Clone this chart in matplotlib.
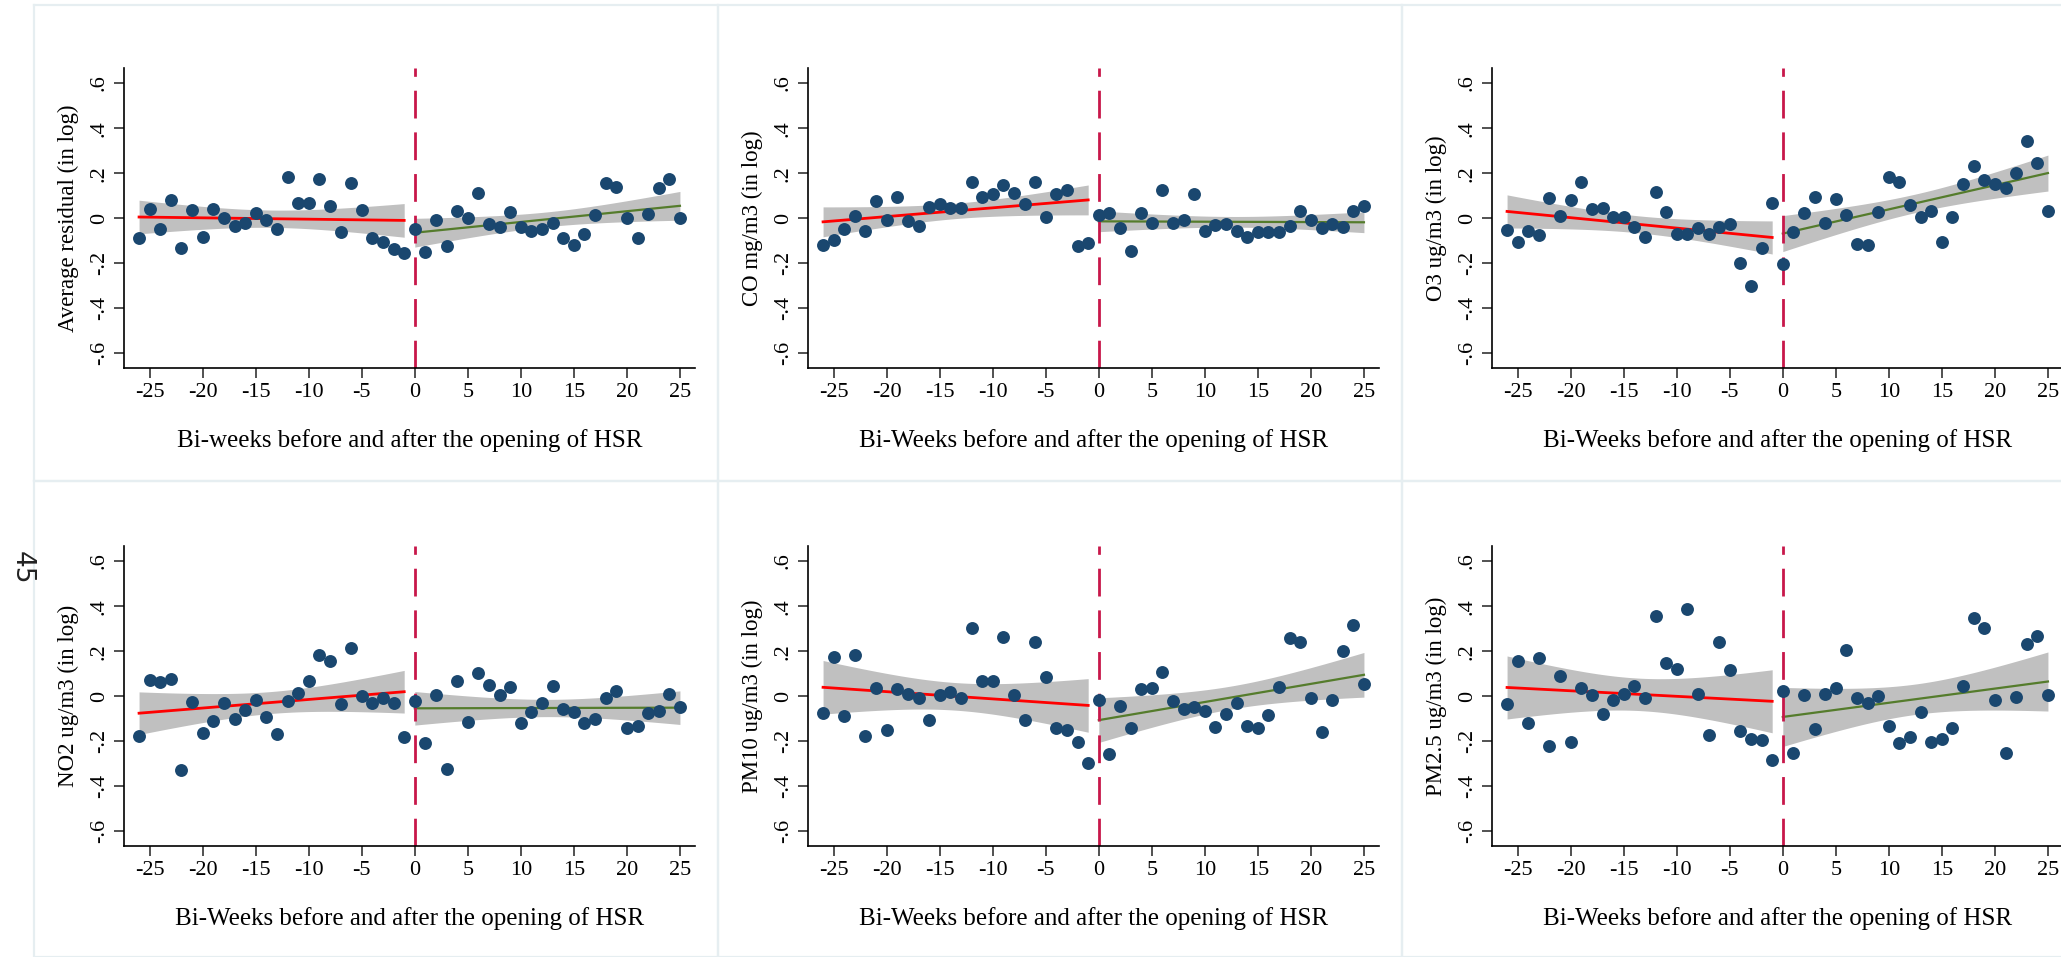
import numpy as np
import matplotlib.pyplot as plt
from matplotlib.lines import Line2D

plt.rcParams['font.family'] = ['Liberation Serif', 'DejaVu Serif']

WEEKS = np.arange(-26, 26)

RESID = [-0.09, 0.04, -0.05, 0.08, -0.134, 0.037, -0.083, 0.04, 0.0, -0.034,
         -0.022, 0.025, -0.01, -0.046, 0.184, 0.066, 0.066, 0.173, 0.053, -0.06,
         0.156, 0.037, -0.086, -0.106, -0.136, -0.156,
         -0.046, -0.15, -0.01, -0.124, 0.031, 0.003, 0.11, -0.024, -0.041, 0.027,
         -0.038, -0.058, -0.05, -0.022, -0.087, -0.118, -0.072, 0.013, 0.158, 0.14,
         0.0, -0.09, 0.018, 0.134, 0.175, 0.0]
CO = [-0.121, -0.097, -0.049, 0.01, -0.055, 0.077, -0.01, 0.093, -0.013, -0.034,
      0.049, 0.065, 0.047, 0.047, 0.159, 0.093, 0.106, 0.149, 0.111, 0.062,
      0.159, 0.004, 0.108, 0.124, -0.125, -0.112,
      0.016, 0.021, -0.044, -0.147, 0.021, -0.019, 0.124, -0.019, -0.009, 0.109,
      -0.058, -0.032, -0.024, -0.055, -0.084, -0.06, -0.059, -0.063, -0.034, 0.03,
      -0.009, -0.044, -0.024, -0.037, 0.032, 0.055]
O3 = [-0.052, -0.105, -0.055, -0.074, 0.09, 0.01, 0.08, 0.159, 0.04, 0.044,
      0.007, 0.004, -0.037, -0.084, 0.115, 0.027, -0.072, -0.072, -0.043, -0.069,
      -0.037, -0.025, -0.2, -0.302, -0.133, 0.066,
      -0.205, -0.059, 0.022, 0.096, -0.019, 0.087, 0.013, -0.115, -0.118, 0.027,
      0.181, 0.159, 0.058, 0.004, 0.031, -0.106, 0.004, 0.153, 0.232, 0.171,
      0.152, 0.134, 0.2, 0.341, 0.246, 0.031]
NO2 = [-0.177, 0.074, 0.062, 0.075, -0.326, -0.027, -0.162, -0.108, -0.029, -0.102,
       -0.06, -0.015, -0.093, -0.167, -0.019, 0.015, 0.068, 0.184, 0.158, -0.035,
       0.214, 0.0, -0.032, -0.006, -0.031, -0.181,
       -0.019, -0.209, 0.006, -0.323, 0.068, -0.115, 0.102, 0.049, 0.006, 0.041,
       -0.118, -0.072, -0.032, 0.044, -0.056, -0.072, -0.121, -0.1, -0.009, 0.024,
       -0.142, -0.131, -0.075, -0.066, 0.012, -0.05]
PM10 = [-0.074, 0.174, -0.09, 0.184, -0.178, 0.037, -0.15, 0.034, 0.012, -0.009,
        -0.105, 0.007, 0.018, -0.01, 0.301, 0.068, 0.068, 0.265, 0.007, -0.106,
        0.239, 0.086, -0.143, -0.15, -0.205, -0.296,
        -0.015, -0.255, -0.044, -0.143, 0.032, 0.037, 0.109, -0.019, -0.058, -0.047,
        -0.066, -0.136, -0.077, -0.032, -0.13, -0.142, -0.084, 0.041, 0.26, 0.239,
        -0.009, -0.158, -0.016, 0.2, 0.317, 0.053]
PM25 = [-0.035, 0.158, -0.119, 0.168, -0.223, 0.091, -0.202, 0.037, 0.004, -0.08,
        -0.016, 0.01, 0.044, -0.007, 0.358, 0.147, 0.119, 0.386, 0.01, -0.171,
        0.242, 0.115, -0.156, -0.192, -0.193, -0.282,
        0.022, -0.251, 0.007, -0.147, 0.012, 0.038, 0.204, -0.01, -0.028, 0.001,
        -0.134, -0.206, -0.183, -0.071, -0.202, -0.189, -0.14, 0.046, 0.348, 0.305,
        -0.015, -0.252, -0.004, 0.232, 0.267, 0.004]

SERIES = [RESID, CO, O3, NO2, PM10, PM25]
YLABELS = ['Average residual (in log)', 'CO mg/m3 (in log)', 'O3 ug/m3 (in log)',
           'NO2 ug/m3 (in log)', 'PM10 ug/m3 (in log)', 'PM2.5 ug/m3 (in log)']
XLABELS = ['Bi-weeks before and after the opening of HSR'] + \
          ['Bi-Weeks before and after the opening of HSR'] * 5
XTICKS = [-25, -20, -15, -10, -5, 0, 5, 10, 15, 20, 25]
YTICKS = [-0.6, -0.4, -0.2, 0, 0.2, 0.4, 0.6]
YTICKLABELS = ['-.6', '-.4', '-.2', '0', '.2', '.4', '.6']

navy = '#1a476f'
band = '#c0c0c0'
W, H = 2061, 957


def lfitci(x, y, t=2.064):
    # OLS fit with 95% CI of the mean prediction (like Stata lfitci)
    b, a = np.polyfit(x, y, 1)
    resid = y - (a + b * x)
    s = np.sqrt(np.sum(resid ** 2) / (len(x) - 2))
    xs = np.linspace(x.min(), x.max(), 100)
    se = s * np.sqrt(1 / len(x) + (xs - x.mean()) ** 2 / np.sum((x - x.mean()) ** 2))
    fit = a + b * xs
    return xs, fit, fit - t * se, fit + t * se


fig = plt.figure(figsize=(W / 100, H / 100), dpi=100)

# panel frames (graph combine look)
for c in range(3):
    for r in range(2):
        x0, y0 = 34 + 684 * c, 5 + 476 * r
        xs_ = [x0, x0 + 684, x0 + 684, x0, x0]
        ys_ = [y0, y0, y0 + 476, y0 + 476, y0]
        fig.add_artist(Line2D([v / W for v in xs_], [1 - v / H for v in ys_],
                              color='#e6eef1', lw=1.6))

for i, (vals, ylab, xlab) in enumerate(zip(SERIES, YLABELS, XLABELS)):
    r, c = divmod(i, 3)
    left = 124 + 684 * c
    top = 68 + 478 * r
    ax = fig.add_axes([left / W, 1 - (top + 300) / H, 571 / W, 300 / H])
    y = np.array(vals)
    pre = WEEKS < 0
    for mask, col, lw in [(pre, 'red', 2.0), (~pre, '#557c2c', 1.6)]:
        xs, fit, lo, hi = lfitci(WEEKS[mask], y[mask])
        ax.fill_between(xs, lo, hi, color=band, lw=0, zorder=1)
        ax.plot(xs, fit, color=col, lw=lw, zorder=2)
    ax.axvline(0, color='#c8174a', lw=2, dashes=(10, 5), zorder=2)
    ax.plot(WEEKS, y, 'o', color=navy, ms=9.3, mew=0, zorder=3)

    ax.set_xlim(-27.42, 26.42)
    ax.set_ylim(-0.665, 0.667)
    ax.set_xticks(XTICKS)
    ax.set_xticklabels([str(v) for v in XTICKS])
    ax.set_yticks(YTICKS)
    ax.set_yticklabels(YTICKLABELS, rotation=90, va='center')
    ax.tick_params(direction='out', length=7, width=1.1, labelsize=16, pad=4,
                   color='#222222')
    for s in ['top', 'right']:
        ax.spines[s].set_visible(False)
    for s in ['left', 'bottom']:
        ax.spines[s].set_linewidth(1.2)
    ax.set_ylabel(ylab, fontsize=16.5, va='center')
    ax.yaxis.set_label_coords(-56 / 571, 0.5)
    ax.set_xlabel(xlab, fontsize=18, va='center')
    ax.xaxis.set_label_coords(0.5, -73 / 300)

fig.text(22 / W, 1 - 568 / H, '45', rotation=-90, fontsize=19,
         family='DejaVu Sans', ha='center', va='center', color='#222222')

fig.savefig('out.png', dpi=100)
